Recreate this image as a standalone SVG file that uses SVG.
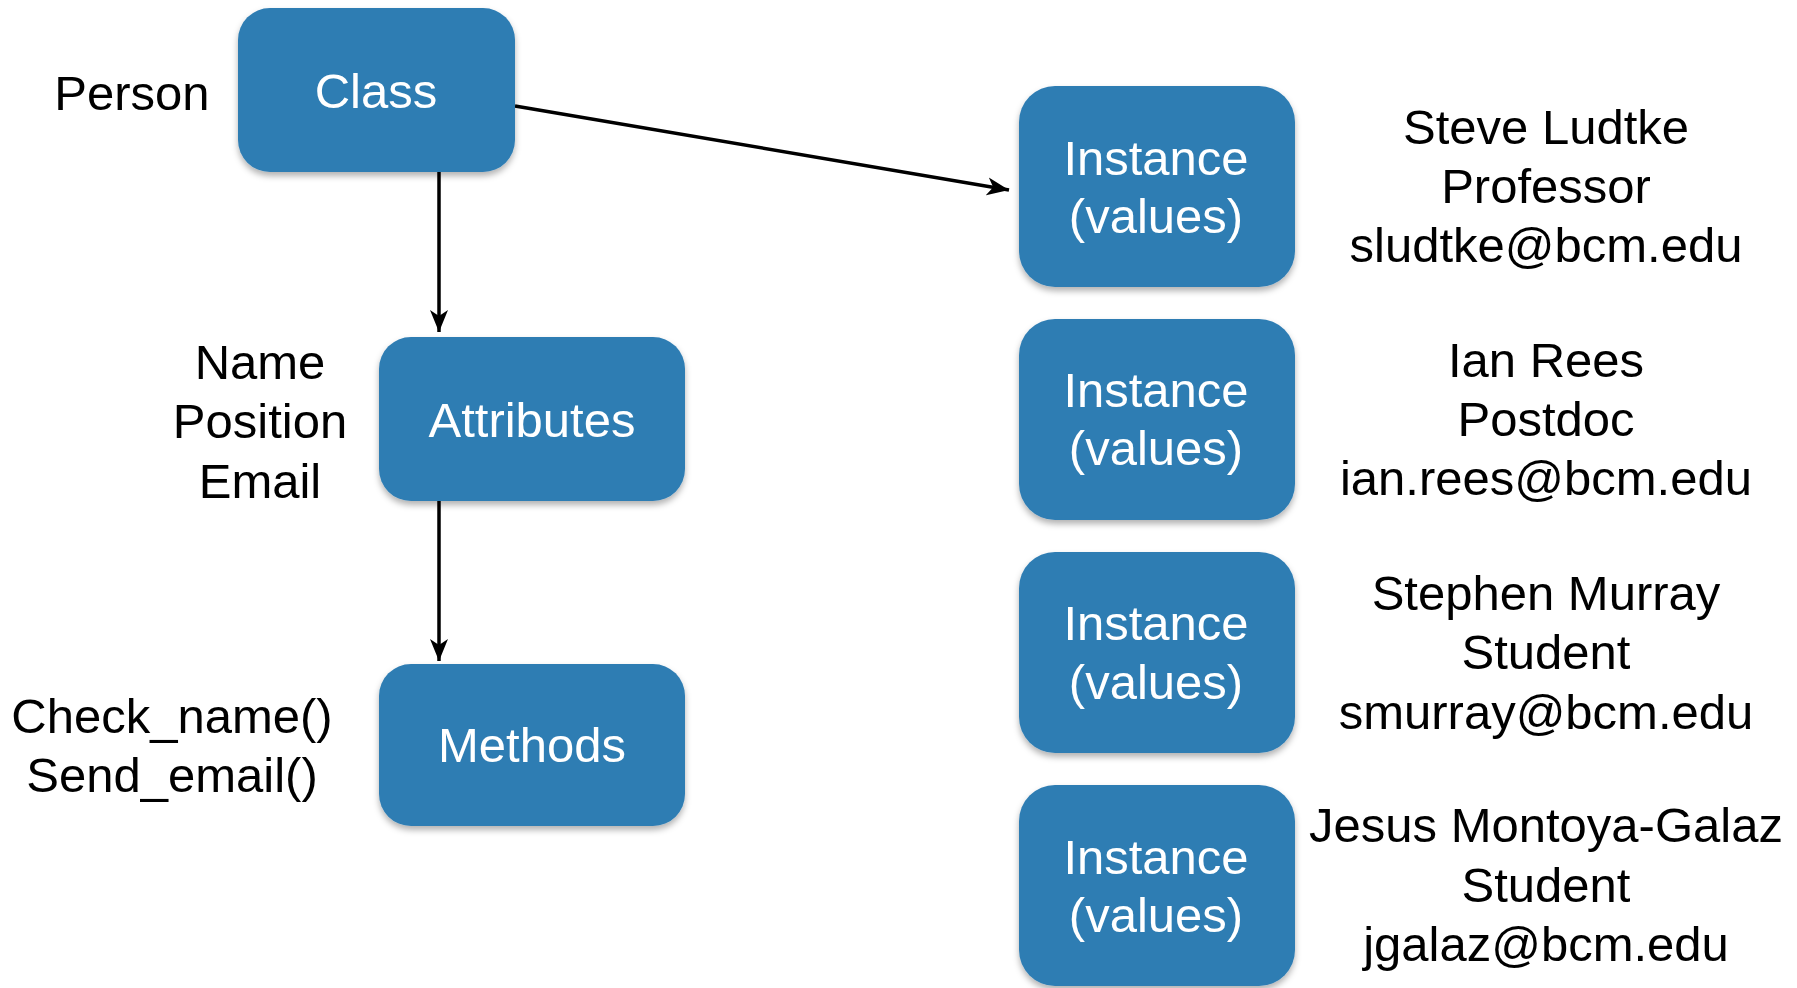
<svg xmlns="http://www.w3.org/2000/svg" width="1797" height="988" viewBox="0 0 1797 988">
<style>
  .box { fill: #2f7db3; filter: url(#sh); }
  .t { font-family: "Liberation Sans", Arial, sans-serif; font-size: 49px; text-anchor: middle; }
  .w { fill: #ffffff; }
  .k { fill: #000000; }
  .edge { stroke: #000; stroke-width: 3.5; fill: none; marker-end: url(#ah); }
</style>
<defs>
  <filter id="sh" x="-10%" y="-10%" width="120%" height="125%">
    <feDropShadow dx="0" dy="4" stdDeviation="3" flood-color="#000" flood-opacity="0.3"/>
  </filter>
  <marker id="ah" markerUnits="userSpaceOnUse" markerWidth="24" markerHeight="20" refX="22" refY="10" orient="auto">
    <path d="M0,1 L22,10 L0,19 L6,10 z" fill="#000"/>
  </marker>
</defs>
<rect width="1797" height="988" fill="#ffffff"/>

<g id="connectors">
  <line class="edge" x1="439" y1="172" x2="439" y2="332"/>
  <line class="edge" x1="439" y1="501" x2="439" y2="661"/>
  <line class="edge" x1="515" y1="106" x2="1009" y2="190"/>
</g>

<g id="class">
  <rect class="box" x="238" y="8" width="277" height="164" rx="32"/>
  <text class="t w" x="376" y="108">Class</text>
  <text class="t k" x="132" y="110">Person</text>
</g>

<g id="attributes">
  <rect class="box" x="379" y="337" width="306" height="164" rx="32"/>
  <text class="t w" x="532" y="437">Attributes</text>
  <text class="t k" x="260" y="379">Name</text>
  <text class="t k" x="260" y="438">Position</text>
  <text class="t k" x="260" y="498">Email</text>
</g>

<g id="methods">
  <rect class="box" x="379" y="664" width="306" height="162" rx="32"/>
  <text class="t w" x="532" y="762">Methods</text>
  <text class="t k" x="172" y="733">Check_name()</text>
  <text class="t k" x="172" y="792">Send_email()</text>
</g>

<g id="instance1">
  <rect class="box" x="1019" y="86" width="276" height="201" rx="36"/>
  <text class="t w" x="1156" y="175">Instance</text>
  <text class="t w" x="1156" y="233">(values)</text>
  <text class="t k" x="1546" y="144">Steve Ludtke</text>
  <text class="t k" x="1546" y="203">Professor</text>
  <text class="t k" x="1546" y="262">sludtke@bcm.edu</text>
</g>

<g id="instance2">
  <rect class="box" x="1019" y="319" width="276" height="201" rx="36"/>
  <text class="t w" x="1156" y="407">Instance</text>
  <text class="t w" x="1156" y="465">(values)</text>
  <text class="t k" x="1546" y="377">Ian Rees</text>
  <text class="t k" x="1546" y="436">Postdoc</text>
  <text class="t k" x="1546" y="495">ian.rees@bcm.edu</text>
</g>

<g id="instance3">
  <rect class="box" x="1019" y="552" width="276" height="201" rx="36"/>
  <text class="t w" x="1156" y="640">Instance</text>
  <text class="t w" x="1156" y="699">(values)</text>
  <text class="t k" x="1546" y="610">Stephen Murray</text>
  <text class="t k" x="1546" y="669">Student</text>
  <text class="t k" x="1546" y="729">smurray@bcm.edu</text>
</g>

<g id="instance4">
  <rect class="box" x="1019" y="785" width="276" height="201" rx="36"/>
  <text class="t w" x="1156" y="874">Instance</text>
  <text class="t w" x="1156" y="932">(values)</text>
  <text class="t k" x="1546" y="842">Jesus Montoya-Galaz</text>
  <text class="t k" x="1546" y="902">Student</text>
  <text class="t k" x="1546" y="961">jgalaz@bcm.edu</text>
</g>
</svg>
